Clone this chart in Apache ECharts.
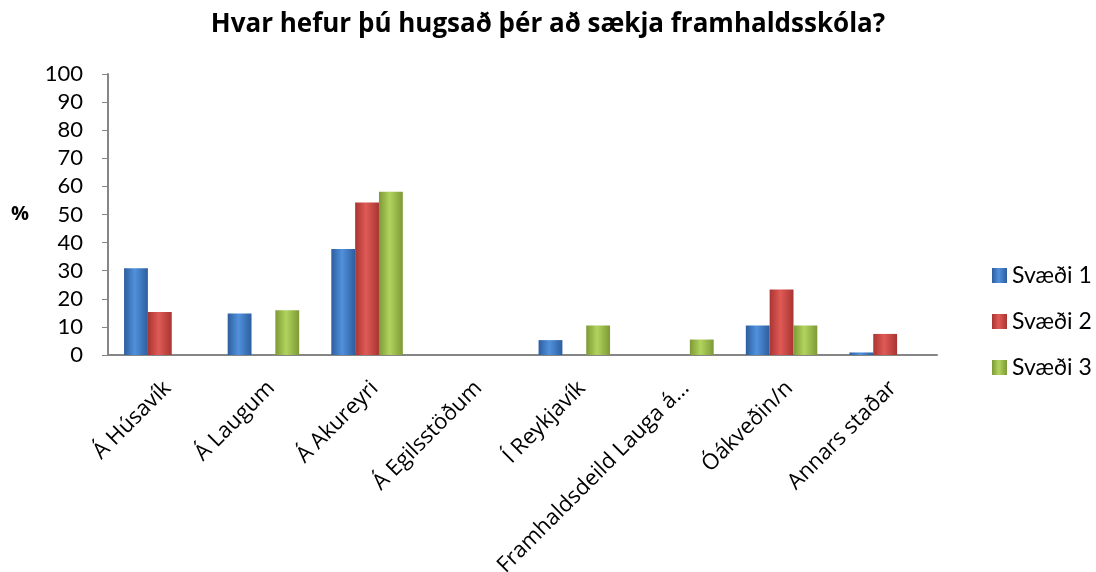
<!DOCTYPE html>
<html>
<head>
<meta charset="utf-8">
<script src="https://cdn.jsdelivr.net/npm/echarts@6/dist/echarts.min.js"></script>
<style>
  html, body { margin: 0; padding: 0; background: #fff; }
  #main { width: 1096px; height: 572px; }
</style>
</head>
<body>
<div id="main"></div>
<script>
// categories + values (percent)
var categories = ['Á Húsavík', 'Á Laugum', 'Á Akureyri', 'Á Egilsstöðum',
    'Í Reykjavík', 'Framhaldsdeild Lauga á...', 'Óákveðin/n', 'Annars staðar'];
var svaedi1 = [30.9, 14.8, 37.7, 0, 5.3, 0, 10.5, 0.9];
var svaedi2 = [15.3, 0, 54.3, 0, 0, 0, 23.3, 7.5];
var svaedi3 = [0, 15.9, 58.1, 0, 10.5, 5.5, 10.5, 0];
var yTicks = [0, 10, 20, 30, 40, 50, 60, 70, 80, 90, 100];

var myChart = echarts.init(document.getElementById('main'));

// shaded "3D-ish" fill, dark edges and light middle
function shade(dark, light) {
    return new echarts.graphic.LinearGradient(0, 0, 1, 0, [
        { offset: 0, color: dark },
        { offset: 0.45, color: light },
        { offset: 1, color: dark }
    ]);
}

var seriesInfo = [
    { name: 'Svæði 1', data: svaedi1, dark: '#2d5e9e', light: '#5191dc' },
    { name: 'Svæði 2', data: svaedi2, dark: '#a83532', light: '#e05a56' },
    { name: 'Svæði 3', data: svaedi3, dark: '#7d9a36', light: '#b2d35e' }
];

var series = seriesInfo.map(function (s) {
    return {
        name: s.name,
        type: 'bar',
        data: s.data,
        barGap: '0%',
        barCategoryGap: '31%',
        itemStyle: {
            color: shade(s.dark, s.light),
            borderWidth: 0
        }
    };
});

myChart.setOption({
    animation: false,
    title: {
        text: 'Hvar hefur þú hugsað þér að sækja framhaldsskóla?',
        left: 'center',
        top: 7,
        textStyle: {
            fontFamily: 'Open Sans',
            fontWeight: 'bold',
            fontSize: 26,
            color: '#000'
        }
    },
    legend: {
        orient: 'vertical',
        left: 987,
        top: 259,
        itemWidth: 15,
        itemHeight: 15,
        itemGap: 23,
        icon: 'rect',
        textStyle: {
            fontFamily: 'Lato',
            fontSize: 23,
            color: '#000'
        },
        data: seriesInfo.map(function (s) { return s.name; })
    },
    grid: {
        left: 108,
        right: 159,
        top: 74,
        bottom: 217,
        outerBoundsMode: 'none'
    },
    xAxis: {
        type: 'category',
        data: categories,
        axisLine: { lineStyle: { color: '#868686', width: 2 } },
        axisTick: { show: false },
        axisLabel: {
            interval: 0,
            rotate: 45,
            margin: 22,
            verticalAlign: 'top',
            fontFamily: 'Open Sans',
            fontSize: 22,
            color: '#000'
        }
    },
    yAxis: {
        type: 'value',
        min: yTicks[0],
        max: yTicks[yTicks.length - 1],
        interval: 10,
        name: '%',
        nameLocation: 'middle',
        nameRotate: 0,
        nameGap: 79,
        nameTextStyle: {
            fontFamily: 'Open Sans',
            fontWeight: 'bold',
            fontSize: 20,
            color: '#000'
        },
        splitLine: { show: false },
        axisLine: { show: true, lineStyle: { color: '#868686', width: 2 } },
        axisTick: { show: true, length: 6, lineStyle: { color: '#868686' } },
        axisLabel: {
            margin: 25,
            fontFamily: 'Lato',
            fontSize: 22,
            color: '#000'
        }
    },
    series: series
});
</script>
</body>
</html>
